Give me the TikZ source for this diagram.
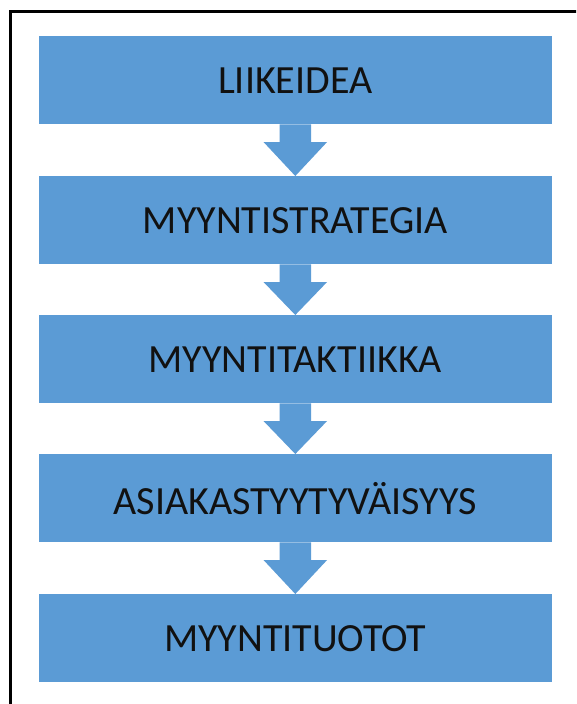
\documentclass[tikz,border=0pt]{standalone}
\usepackage{fontspec}
\setmainfont{Carlito}
\usetikzlibrary{calc}
\definecolor{boxblue}{HTML}{5B9BD5}
\definecolor{txt}{HTML}{111111}
\tikzset{
  stage/.style={fill=boxblue, minimum width=513.5pt, minimum height=88pt, inner sep=0pt, anchor=north,
    text=txt, font=\fontsize{40}{48}\selectfont},
  flow/.style={fill=boxblue},
  frame/.style={draw=black, line width=2.6pt}
}
\begin{document}
\begin{tikzpicture}[x=1pt,y=-1pt]
\useasboundingbox (0,0) rectangle (576,704);
\clip (0,0) rectangle (576,704);
\fill[white] (0,0) rectangle (576,704);
\draw[frame] (10.5,11.3) rectangle (620,760);
\node[stage] (b1) at (295.3,36) {LIIKEIDEA};
\node[stage] (b2) at (295.3,176) {MYYNTISTRATEGIA};
\node[stage] (b3) at (295.3,315) {MYYNTITAKTIIKKA};
\node[stage] (b4) at (295.3,454) {ASIAKASTYYTYVÄISYYS};
\node[stage] (b5) at (295.3,594) {MYYNTITUOTOT};
\foreach \a/\b in {b1/b2,b2/b3,b3/b4,b4/b5}{
  \fill[flow] ($(\a.south)+(-15.7,0)$) -- ($(\a.south)+(15.7,0)$) -- ($(\a.south)+(15.7,17.7)$)
    -- ($(\a.south)+(31.7,17.7)$) -- (\b.north) -- ($(\a.south)+(-31.7,17.7)$)
    -- ($(\a.south)+(-15.7,17.7)$) -- cycle;
}
\end{tikzpicture}
\end{document}
